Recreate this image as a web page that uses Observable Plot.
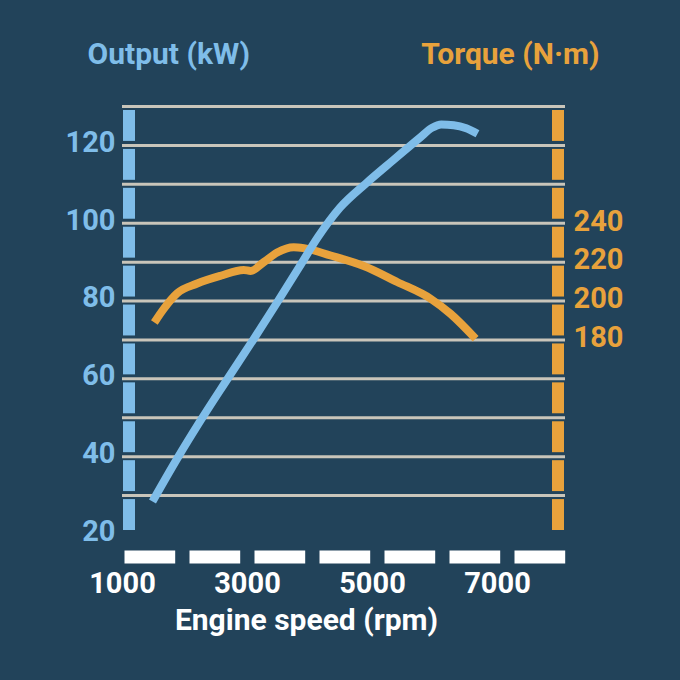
<!DOCTYPE html>
<html>
<head>
<meta charset="utf-8">
<script src="https://cdn.jsdelivr.net/npm/d3@7"></script>
<script src="https://cdn.jsdelivr.net/npm/@observablehq/plot@0.6"></script>
<style>
  html, body { margin: 0; padding: 0; background: #22435a; }
  #chart { width: 680px; height: 680px; }
</style>
</head>
<body>
<div id="chart"></div>
<script>
// ---- data ----
const rpmTicks = [1000, 3000, 5000, 7000];
const kwTicks = [20, 40, 60, 80, 100, 120];
const torqueTicks = [180, 200, 220, 240];
const gridLevels = [30, 40, 50, 60, 70, 80, 90, 100, 110, 120, 130];
const barSegments = [20, 30, 40, 50, 60, 70, 80, 90, 100, 110, 120];

const outputRpm = [1480, 1875, 2230, 2640, 3090, 3480, 3820, 4130, 4480, 4900, 5330, 5760, 5950, 6100, 6300, 6500, 6680];
const outputKW  = [28.5, 39.5, 48.8, 59,   70,   79.8, 88.5, 96.5, 104,  110.3, 116.2, 122, 124.5, 125.4, 125.2, 124.4, 123];

const torqueRpm = [1510, 1660, 1875, 2195, 2570, 2940, 3050, 3260, 3475, 3740, 3900, 4330, 4860, 5395, 5930, 6250, 6650];
const torqueNm  = [189,  196,  204,  209,  213,  216,  215.5, 220, 225,  227.7, 227.2, 223.4, 218, 209.8, 201.2, 193.4, 180.6];

// ---- styling ----
const BG = "#22435a";
const BLUE = "#7fbde9";
const ORANGE = "#e8a23c";
const GRID = "#c9c5ba";

// torque (N·m) <-> output axis (kW): 240 N·m sits on 100 kW, 180 N·m on 70 kW
const toKW = t => (t - 40) / 2;
const toNm = k => 2 * k + 40;

const outputData = outputRpm.map((r, i) => ({rpm: r, kw: outputKW[i]}));
const torqueData = torqueRpm.map((r, i) => ({rpm: r, nm: torqueNm[i]}));

const W = 680, H = 680;
const mL = 122, mR = 115, mT = 106, mB = H - 556.5;
const frameW = W - mL - mR;

const chart = Plot.plot({
  width: W,
  height: H,
  marginTop: mT,
  marginLeft: mL,
  marginRight: mR,
  marginBottom: mB,
  x: {domain: [1000, 8000], insetRight: 5.5, axis: null},
  y: {domain: [20, 130], insetBottom: 22.5, axis: null},
  style: {background: BG, fontFamily: "Roboto, 'Open Sans', sans-serif", fontWeight: "bold"},
  marks: [
    Plot.ruleY(gridLevels, {stroke: GRID, strokeWidth: 3}),
    Plot.rect(barSegments, {y1: d => d, y2: d => d + 10, insetTop: 4, insetBottom: 4, insetLeft: 1, insetRight: frameW - 13, fill: BLUE}),
    Plot.rect(barSegments, {y1: d => d, y2: d => d + 10, insetTop: 4, insetBottom: 4, insetLeft: frameW - 13, insetRight: 1, fill: ORANGE}),
    Plot.frame({anchor: "bottom", stroke: "white", strokeWidth: 13, strokeLinecap: "butt", strokeDasharray: "50.7 14.3", insetLeft: 2}),
    Plot.line(torqueData, {x: "rpm", y: d => toKW(d.nm), curve: "monotone-x", stroke: ORANGE, strokeWidth: 8, strokeLinecap: "butt", strokeLinejoin: "round"}),
    Plot.line(outputData, {x: "rpm", y: "kw", curve: "monotone-x", stroke: BLUE, strokeWidth: 8, strokeLinecap: "butt", strokeLinejoin: "round"}),
    Plot.axisY(kwTicks, {anchor: "left", tickSize: 0, tickPadding: 7, fontSize: 29, color: BLUE, dy: -3, label: null}),
    Plot.axisY(torqueTicks.map(toKW), {anchor: "right", tickSize: 0, tickPadding: 8, fontSize: 29, color: ORANGE, dy: -2, label: null, tickFormat: k => String(toNm(k))}),
    Plot.axisX(rpmTicks, {anchor: "bottom", tickSize: 0, tickPadding: 15, fontSize: 29, color: "white", label: null, tickFormat: d => String(d)}),
    Plot.text(["Engine speed (rpm)"], {text: d => d, frameAnchor: "bottom", lineAnchor: "middle", dx: -37.5, dy: 63, fontSize: 30, fill: "white"}),
    Plot.text(["Output (kW)"], {text: d => d, frameAnchor: "top-left", lineAnchor: "middle", textAnchor: "start", dx: -35, dy: -52.5, fontSize: 30, fill: BLUE}),
    Plot.text(["Torque (N·m)"], {text: d => d, frameAnchor: "top-right", lineAnchor: "middle", textAnchor: "end", dx: 34, dy: -52.5, fontSize: 30, fill: ORANGE})
  ]
});
document.getElementById("chart").appendChild(chart);
</script>
</body>
</html>
